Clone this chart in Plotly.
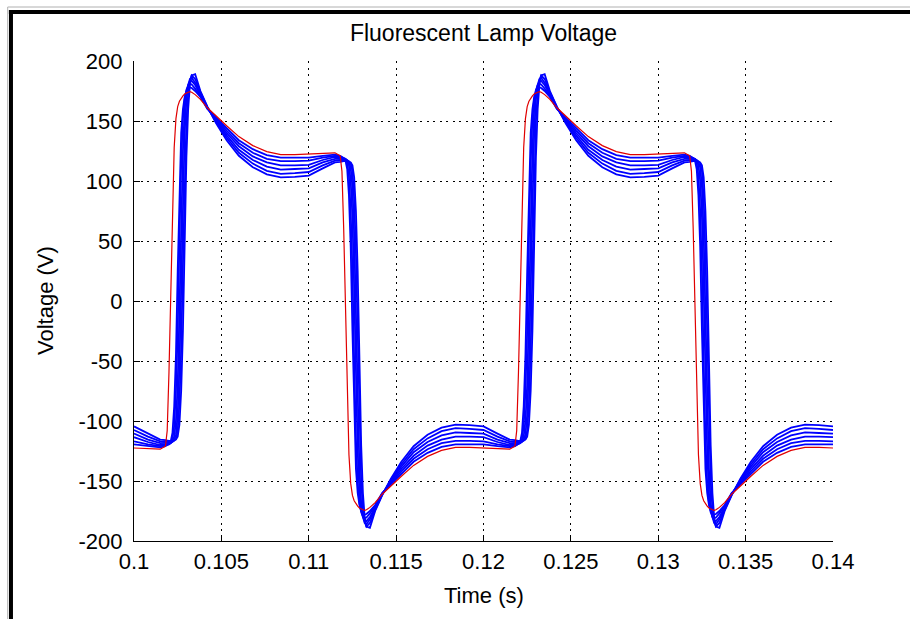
import plotly.graph_objects as go

# Sample times in milliseconds (denser around the switching edges)
time_ms = [
    100.0, 100.8, 101.5, 101.8, 101.9, 102.0, 102.1, 102.2, 102.3, 102.4, 102.5, 102.6, 102.7, 102.8, 102.9,
    103.0, 103.1, 103.2, 103.3, 103.5, 103.8, 104.2, 104.7, 105.3, 106.0, 106.8, 107.6, 108.4, 109.2,
    110.0, 110.8, 111.5, 111.8, 111.9, 112.0, 112.1, 112.2, 112.3, 112.4, 112.5, 112.6, 112.7, 112.8, 112.9,
    113.0, 113.1, 113.2, 113.3, 113.5, 113.8, 114.2, 114.7, 115.3, 116.0, 116.8, 117.6, 118.4, 119.2,
    120.0, 120.8, 121.5, 121.8, 121.9, 122.0, 122.1, 122.2, 122.3, 122.4, 122.5, 122.6, 122.7, 122.8, 122.9,
    123.0, 123.1, 123.2, 123.3, 123.5, 123.8, 124.2, 124.7, 125.3, 126.0, 126.8, 127.6, 128.4, 129.2,
    130.0, 130.8, 131.5, 131.8, 131.9, 132.0, 132.1, 132.2, 132.3, 132.4, 132.5, 132.6, 132.7, 132.8, 132.9,
    133.0, 133.1, 133.2, 133.3, 133.5, 133.8, 134.2, 134.7, 135.3, 136.0, 136.8, 137.6, 138.4, 139.2,
    140.0,
]

# Lamp voltage (V), reference case
v_ref = [
    -122.5, -123, -123.5, -121, -108, -60, 10, 80, 128, 152, 162, 166.5, 169, 171, 172.5,
    173.5, 174, 174.5, 174, 172, 168, 161, 154, 146, 137, 129.5, 124.5, 122, 122,
    122.5, 123, 123.5, 121, 108, 60, -10, -80, -128, -152, -162, -166.5, -169, -171, -172.5,
    -173.5, -174, -174.5, -174, -172, -168, -161, -154, -146, -137, -129.5, -124.5, -122, -122,
    -122.5, -123, -123.5, -121, -108, -60, 10, 80, 128, 152, 162, 166.5, 169, 171, 172.5,
    173.5, 174, 174.5, 174, 172, 168, 161, 154, 146, 137, 129.5, 124.5, 122, 122,
    122.5, 123, 123.5, 121, 108, 60, -10, -80, -128, -152, -162, -166.5, -169, -171, -172.5,
    -173.5, -174, -174.5, -174, -172, -168, -161, -154, -146, -137, -129.5, -124.5, -122, -122,
    -122.5,
]

# Lamp voltage (V), parameter sweep cases
v_sweep_1 = [
    -119.5, -121, -122, -121, -120, -119, -117, -110, -88, -45, 25, 95, 140, 160, 170,
    175, 177.5, 178, 177.5, 175, 170, 160, 153, 144, 134, 126.5, 121.5, 119.5, 119.5,
    119.5, 121, 122, 121, 120, 119, 117, 110, 88, 45, -25, -95, -140, -160, -170,
    -175, -177.5, -178, -177.5, -175, -170, -160, -153, -144, -134, -126.5, -121.5, -119.5, -119.5,
    -119.5, -121, -122, -121, -120, -119, -117, -110, -88, -45, 25, 95, 140, 160, 170,
    175, 177.5, 178, 177.5, 175, 170, 160, 153, 144, 134, 126.5, 121.5, 119.5, 119.5,
    119.5, 121, 122, 121, 120, 119, 117, 110, 88, 45, -25, -95, -140, -160, -170,
    -175, -177.5, -178, -177.5, -175, -170, -160, -153, -144, -134, -126.5, -121.5, -119.5, -119.5,
    -119.5,
]
v_sweep_2 = [
    -117, -119.5, -121, -120.5, -120, -119.5, -118.5, -115, -104, -75, -25, 50, 115, 152, 168,
    176, 179.5, 181, 180.5, 177, 171, 160.5, 152, 142, 131.5, 123.5, 118.5, 116.5, 116.5,
    117, 119.5, 121, 120.5, 120, 119.5, 118.5, 115, 104, 75, 25, -50, -115, -152, -168,
    -176, -179.5, -181, -180.5, -177, -171, -160.5, -152, -142, -131.5, -123.5, -118.5, -116.5, -116.5,
    -117, -119.5, -121, -120.5, -120, -119.5, -118.5, -115, -104, -75, -25, 50, 115, 152, 168,
    176, 179.5, 181, 180.5, 177, 171, 160.5, 152, 142, 131.5, 123.5, 118.5, 116.5, 116.5,
    117, 119.5, 121, 120.5, 120, 119.5, 118.5, 115, 104, 75, 25, -50, -115, -152, -168,
    -176, -179.5, -181, -180.5, -177, -171, -160.5, -152, -142, -131.5, -123.5, -118.5, -116.5, -116.5,
    -117,
]
v_sweep_3 = [
    -113.5, -117.5, -120, -119.5, -119, -119, -118.5, -117, -113, -100, -70, -10, 65, 125, 160,
    174, 180, 183, 183.5, 180, 172, 161, 151, 140, 129, 120.5, 115.5, 113, 113,
    113.5, 117.5, 120, 119.5, 119, 119, 118.5, 117, 113, 100, 70, 10, -65, -125, -160,
    -174, -180, -183, -183.5, -180, -172, -161, -151, -140, -129, -120.5, -115.5, -113, -113,
    -113.5, -117.5, -120, -119.5, -119, -119, -118.5, -117, -113, -100, -70, -10, 65, 125, 160,
    174, 180, 183, 183.5, 180, 172, 161, 151, 140, 129, 120.5, 115.5, 113, 113,
    113.5, 117.5, 120, 119.5, 119, 119, 118.5, 117, 113, 100, 70, 10, -65, -125, -160,
    -174, -180, -183, -183.5, -180, -172, -161, -151, -140, -129, -120.5, -115.5, -113, -113,
    -113.5,
]
v_sweep_4 = [
    -110.5, -115.5, -118.5, -118.5, -118.5, -118.5, -118, -117.5, -116, -111, -95, -55, 10, 85, 140,
    168, 180, 185, 186, 182, 173, 161, 150, 138, 126, 117.5, 112, 109.5, 110,
    110.5, 115.5, 118.5, 118.5, 118.5, 118.5, 118, 117.5, 116, 111, 95, 55, -10, -85, -140,
    -168, -180, -185, -186, -182, -173, -161, -150, -138, -126, -117.5, -112, -109.5, -110,
    -110.5, -115.5, -118.5, -118.5, -118.5, -118.5, -118, -117.5, -116, -111, -95, -55, 10, 85, 140,
    168, 180, 185, 186, 182, 173, 161, 150, 138, 126, 117.5, 112, 109.5, 110,
    110.5, 115.5, 118.5, 118.5, 118.5, 118.5, 118, 117.5, 116, 111, 95, 55, -10, -85, -140,
    -168, -180, -185, -186, -182, -173, -161, -150, -138, -126, -117.5, -112, -109.5, -110,
    -110.5,
]
v_sweep_5 = [
    -107.5, -113, -117, -117.5, -117.5, -117.5, -117.5, -117, -116.5, -115, -108, -85, -40, 30, 105,
    150, 173, 184, 188, 185, 174, 161.5, 149, 136, 123.5, 114.5, 108.5, 106, 106.5,
    107.5, 113, 117, 117.5, 117.5, 117.5, 117.5, 117, 116.5, 115, 108, 85, 40, -30, -105,
    -150, -173, -184, -188, -185, -174, -161.5, -149, -136, -123.5, -114.5, -108.5, -106, -106.5,
    -107.5, -113, -117, -117.5, -117.5, -117.5, -117.5, -117, -116.5, -115, -108, -85, -40, 30, 105,
    150, 173, 184, 188, 185, 174, 161.5, 149, 136, 123.5, 114.5, 108.5, 106, 106.5,
    107.5, 113, 117, 117.5, 117.5, 117.5, 117.5, 117, 116.5, 115, 108, 85, 40, -30, -105,
    -150, -173, -184, -188, -185, -174, -161.5, -149, -136, -123.5, -114.5, -108.5, -106, -106.5,
    -107.5,
]
v_sweep_6 = [
    -104.5, -110.5, -115.5, -116, -116.5, -116.5, -116.5, -116.5, -116, -115.5, -113, -103, -75, -25, 50,
    120, 160, 180, 188, 189, 175, 162, 148, 134, 121, 111.5, 105.5, 103, 103.5,
    104.5, 110.5, 115.5, 116, 116.5, 116.5, 116.5, 116.5, 116, 115.5, 113, 103, 75, 25, -50,
    -120, -160, -180, -188, -189, -175, -162, -148, -134, -121, -111.5, -105.5, -103, -103.5,
    -104.5, -110.5, -115.5, -116, -116.5, -116.5, -116.5, -116.5, -116, -115.5, -113, -103, -75, -25, 50,
    120, 160, 180, 188, 189, 175, 162, 148, 134, 121, 111.5, 105.5, 103, 103.5,
    104.5, 110.5, 115.5, 116, 116.5, 116.5, 116.5, 116.5, 116, 115.5, 113, 103, 75, 25, -50,
    -120, -160, -180, -188, -189, -175, -162, -148, -134, -121, -111.5, -105.5, -103, -103.5,
    -104.5,
]

x_tick_vals = [0.1, 0.105, 0.11, 0.115, 0.12, 0.125, 0.13, 0.135, 0.14]
x_tick_text = ["0.1", "0.105", "0.11", "0.115", "0.12", "0.125", "0.13", "0.135", "0.14"]
y_tick_vals = [-200, -150, -100, -50, 0, 50, 100, 150, 200]
y_tick_text = ["-200", "-150", "-100", "-50", "0", "50", "100", "150", "200"]

time_s = [v / 1000.0 for v in time_ms]

FONT = "Liberation Sans, Arial, Helvetica, sans-serif"
TICK_SIZE = 22

fig = go.Figure()
for series in [v_sweep_1, v_sweep_2, v_sweep_3, v_sweep_4, v_sweep_5, v_sweep_6]:
    fig.add_trace(go.Scatter(x=time_s, y=series, mode="lines",
                             line=dict(color="#0000ff", width=1.8), showlegend=False,
                             hoverinfo="skip"))
fig.add_trace(go.Scatter(x=time_s, y=v_ref, mode="lines",
                         line=dict(color="#e00000", width=1.2), showlegend=False,
                         hoverinfo="skip"))

axis_common = dict(
    showline=True, linecolor="black", linewidth=1.3, mirror=False,
    ticks="inside", ticklen=6, tickcolor="black", tickwidth=1.2,
    showgrid=True, gridcolor="black", gridwidth=1, griddash="2px,4.5px",
    zeroline=False, tickfont=dict(family=FONT, size=TICK_SIZE, color="black"),
)

fig.update_xaxes(range=[0.1, 0.14], tickvals=x_tick_vals, ticktext=x_tick_text,
                 ticklabelstandoff=0, **axis_common)
fig.update_yaxes(range=[-200, 200], tickvals=y_tick_vals, ticktext=y_tick_text,
                 ticklabelstandoff=6, **axis_common)

# Window-style frame around the figure
frame_shapes = [
    dict(type="line", xref="paper", yref="paper", x0=-0.176, x1=-0.176, y0=-0.4, y1=1.106,
         line=dict(color="black", width=4)),
    dict(type="line", xref="paper", yref="paper", x0=-0.179, x1=1.4, y0=1.102, y1=1.102,
         line=dict(color="black", width=4)),
    dict(type="line", xref="paper", yref="paper", x0=-0.1807, x1=-0.1807, y0=-0.4, y1=1.1125,
         line=dict(color="#b0b0b0", width=1)),
    dict(type="line", xref="paper", yref="paper", x0=-0.1807, x1=1.4, y0=1.1125, y1=1.1125,
         line=dict(color="#b0b0b0", width=1)),
]

fig.update_layout(
    width=910, height=619,
    margin=dict(l=134, r=77, t=61, b=78),
    paper_bgcolor="white", plot_bgcolor="white",
    font=dict(family=FONT, color="black"),
    title=dict(text="Fluorescent Lamp Voltage", x=0.5, xref="paper", xanchor="center",
               y=1 - 33 / 619, yref="container", yanchor="middle",
               font=dict(family=FONT, size=23, color="black")),
    shapes=frame_shapes,
    annotations=[
        dict(text="Time (s)", xref="paper", yref="paper", x=0.5, y=-(595 - 541) / 480,
             xanchor="center", yanchor="middle", showarrow=False,
             font=dict(family=FONT, size=TICK_SIZE, color="black")),
        dict(text="Voltage (V)", xref="paper", yref="paper", x=(45 - 134) / 699, y=0.5,
             xanchor="center", yanchor="middle", showarrow=False, textangle=-90,
             font=dict(family=FONT, size=TICK_SIZE, color="black")),
    ],
)

fig.write_html("out.html")
